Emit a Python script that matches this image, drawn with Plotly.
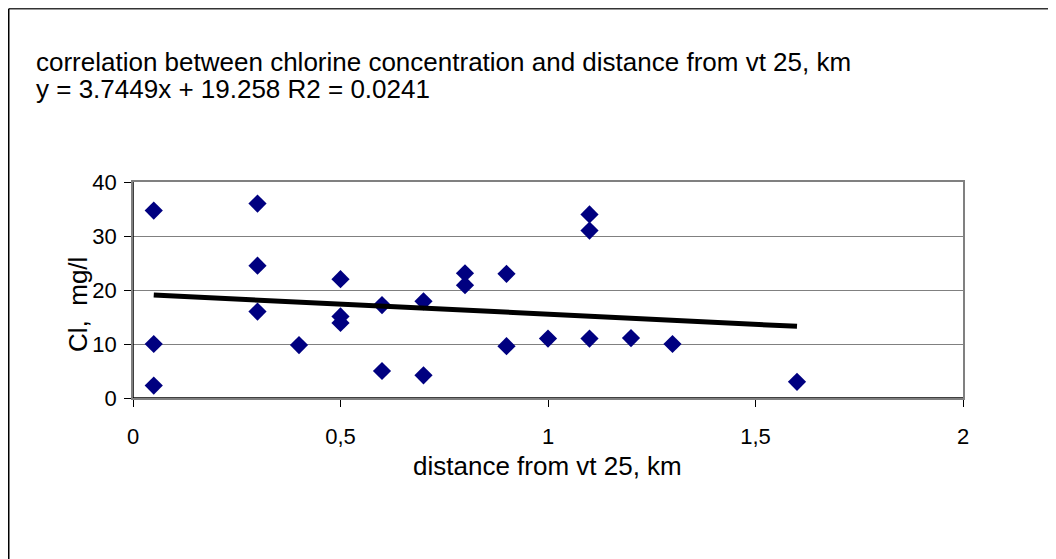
import plotly.graph_objects as go

# Data
distance_km = [0.05, 0.05, 0.05, 0.3, 0.3, 0.3, 0.4, 0.5, 0.5, 0.5, 0.6, 0.6,
               0.7, 0.7, 0.8, 0.8, 0.9, 0.9, 1.0, 1.1, 1.1, 1.1, 1.2, 1.3, 1.6]
chlorine_mgl = [34.7, 10.0, 2.3, 36.0, 24.5, 16.0, 9.8, 22.0, 15.1, 13.9, 17.2, 5.0,
                17.9, 4.2, 23.1, 20.9, 23.0, 9.6, 11.0, 34.0, 31.0, 11.0, 11.1, 10.0, 3.0]
trend_x = [0.05, 1.6]
trend_y = [19.07, 13.27]
x_ticks = [0, 0.5, 1, 1.5, 2]
x_tick_labels = ["0", "0,5", "1", "1,5", "2"]
y_ticks = [0, 10, 20, 30, 40]

W, H = 1048, 551
L, R, T, B = 125, 93, 174, 161
pw, ph = W - L - R, H - T - B

def px(x):
    return (x - L) / pw

def py(y):
    return (H - B - y) / ph

fig = go.Figure()
fig.add_trace(go.Scatter(x=distance_km, y=chlorine_mgl, mode="markers",
                         marker=dict(symbol="diamond", size=14, color="#000080",
                                     line=dict(width=0)),
                         showlegend=False, cliponaxis=False))
fig.add_trace(go.Scatter(x=trend_x, y=trend_y, mode="lines",
                         line=dict(color="black", width=5),
                         showlegend=False))

font = "Liberation Sans, Arial, sans-serif"
fig.update_layout(
    width=W, height=H,
    margin=dict(l=L, r=R, t=T, b=B),
    paper_bgcolor="white", plot_bgcolor="white",
    font=dict(family=font, color="black", size=22),
    xaxis=dict(range=[0, 2], tickvals=x_ticks, ticktext=x_tick_labels,
               showgrid=False, zeroline=False, showline=True, linecolor="#808080",
               linewidth=1.5, mirror=True, ticks="outside", ticklen=7, tickcolor="black",
               tickfont=dict(size=22), ticklabelstandoff=11),
    yaxis=dict(range=[0, 40], tickvals=y_ticks, showgrid=True, gridcolor="#808080",
               gridwidth=1, zeroline=False, showline=True, linecolor="#808080",
               linewidth=1.5, mirror=True, ticks="outside", ticklen=7, tickcolor="black",
               tickfont=dict(size=22), ticklabelstandoff=3),
    shapes=[
        dict(type="line", xref="paper", yref="paper", x0=px(0.75), x1=px(W + 5),
             y0=py(0.75), y1=py(0.75), line=dict(color="#333333", width=1.5)),
        dict(type="line", xref="paper", yref="paper", x0=px(0.75), x1=px(0.75),
             y0=py(0.75), y1=py(H + 5), line=dict(color="black", width=1.5)),
        dict(type="line", xref="x", yref="paper", x0=0, x1=0, y0=0, y1=1,
             line=dict(color="black", width=1.5)),
        dict(type="line", xref="paper", yref="y", x0=0, x1=1, y0=0, y1=0,
             line=dict(color="black", width=1.5)),
    ],
    annotations=[
        dict(text="correlation between chlorine concentration and distance from vt 25, km",
             xref="paper", yref="paper", x=px(26), y=py(54), xanchor="left",
             yanchor="middle", showarrow=False, font=dict(size=26)),
        dict(text="y = 3.7449x + 19.258 R2 = 0.0241",
             xref="paper", yref="paper", x=px(26), y=py(81), xanchor="left",
             yanchor="middle", showarrow=False, font=dict(size=26)),
        dict(text="distance from vt 25, km",
             xref="paper", yref="paper", x=px(539), y=py(458), xanchor="center",
             yanchor="middle", showarrow=False, font=dict(size=26)),
        dict(text="Cl,\u00a0\u00a0mg/l",
             xref="paper", yref="paper", x=px(70), y=py(297), xanchor="center",
             yanchor="middle", showarrow=False, textangle=-90, font=dict(size=26)),
    ],
)
fig.write_html("out.html")
